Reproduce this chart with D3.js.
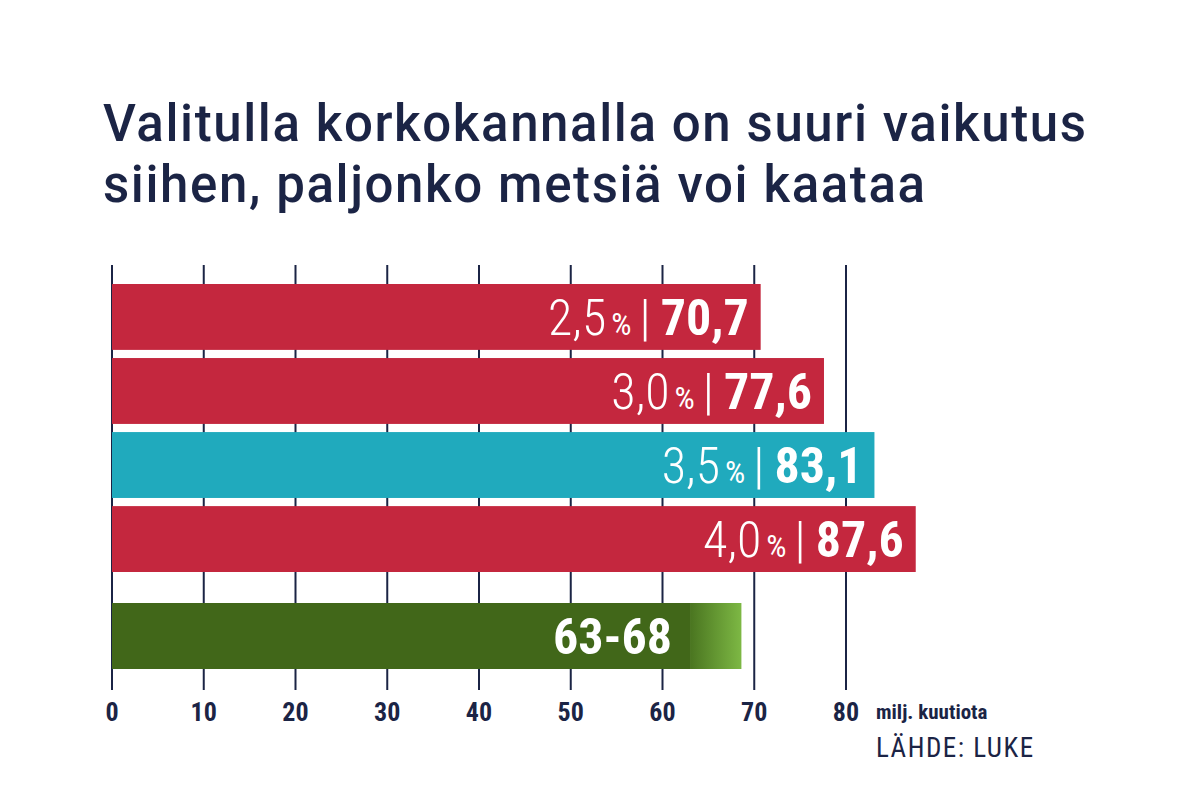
<!DOCTYPE html><html><head><meta charset="utf-8"><script src="https://cdn.jsdelivr.net/npm/d3@7"></script>
<style>body{margin:0;background:#fff}</style></head><body><svg id="c" width="1199" height="804"></svg>
<script>
const rates = ["2,5 %", "3,0 %", "3,5 %", "4,0 %"];
const values = [70.7, 77.6, 83.1, 87.6];
const valueLabels = ["70,7", "77,6", "83,1", "87,6"];
const colors = ["#c4273e", "#c4273e", "#20aabd", "#c4273e"];
const rangeLow = 63, rangeHigh = 68.6, rangeLabel = "63-68";
const ticks = [0,10,20,30,40,50,60,70,80];
const svg = d3.select("#c");
const ink = "#1b2445";
const narrow = "'Liberation Sans Narrow','Roboto Condensed','Roboto',sans-serif";
const t1 = svg.append("text").attr("x",103).attr("y",141).attr("font-family","Roboto").attr("font-weight",500).attr("font-size",51).attr("fill",ink).attr("textLength",983).text("Valitulla korkokannalla on suuri vaikutus");
svg.append("text").attr("x",103).attr("y",202).attr("font-family","Roboto").attr("font-weight",500).attr("font-size",51).attr("fill",ink).attr("textLength",822).text("siihen, paljonko metsiä voi kaataa");
const x = d3.scaleLinear().domain([0,80]).range([112,846]);
const y = d3.scaleBand().domain([0,1,2,3]).range([284,572]).paddingInner(0.11).paddingOuter(0);
const g = svg.append("g");
g.selectAll("line.grid").data(ticks).join("line").attr("x1",d=>x(d)).attr("x2",d=>x(d)).attr("y1",265).attr("y2",690).attr("stroke",ink).attr("stroke-width",2);
g.selectAll("rect.bar").data(values).join("rect").attr("x",x(0)).attr("y",(d,i)=>y(i)).attr("width",d=>x(d)-x(0)).attr("height",y.bandwidth()).attr("fill",(d,i)=>colors[i]);
const lab = g.selectAll("text.lab").data(values).join("text").attr("x",d=>x(d)-12).attr("y",(d,i)=>y(i)+y.bandwidth()/2+18).attr("text-anchor","end").attr("fill","#fff").attr("font-family",narrow).attr("font-size",50);
lab.append("tspan").attr("font-weight",300).text((d,i)=>rates[i].split(" ")[0]);
lab.append("tspan").attr("font-size",32).attr("dx",5).text("%");
lab.append("tspan").attr("font-weight",300).attr("dx",8).text("|");
lab.append("tspan").attr("font-weight",700).attr("dx",10).text((d,i)=>valueLabels[i]);
const defs = svg.append("defs");
const gr = defs.append("linearGradient").attr("id","gg");
gr.append("stop").attr("offset","0%").attr("stop-color","#4a7520");
gr.append("stop").attr("offset","100%").attr("stop-color","#7db844");
const gy = 603, gh = 66;
g.append("rect").attr("x",x(rangeLow)).attr("y",gy).attr("width",x(rangeHigh)-x(rangeLow)).attr("height",gh).attr("fill","url(#gg)");
g.append("rect").attr("x",x(0)).attr("y",gy).attr("width",x(rangeLow)-x(0)).attr("height",gh).attr("fill","#416719");
g.append("text").attr("x",x(rangeLow)-18).attr("y",gy+gh/2+18).attr("text-anchor","end").attr("fill","#fff").attr("font-family",narrow).attr("font-weight",700).attr("font-size",50).text(rangeLabel);
g.selectAll("text.tick").data(ticks).join("text").attr("x",d=>x(d)).attr("y",721).attr("text-anchor","middle").attr("fill",ink).attr("font-family",narrow).attr("font-weight",700).attr("font-size",26).text(d=>d);
g.append("text").attr("x",876).attr("y",719).attr("fill",ink).attr("font-family",narrow).attr("font-weight",700).attr("font-size",21).text("milj. kuutiota");
g.append("text").attr("x",876).attr("y",757).attr("fill",ink).attr("font-family",narrow).attr("font-size",27).attr("letter-spacing",1.5).text("LÄHDE: LUKE");
</script></body></html>
